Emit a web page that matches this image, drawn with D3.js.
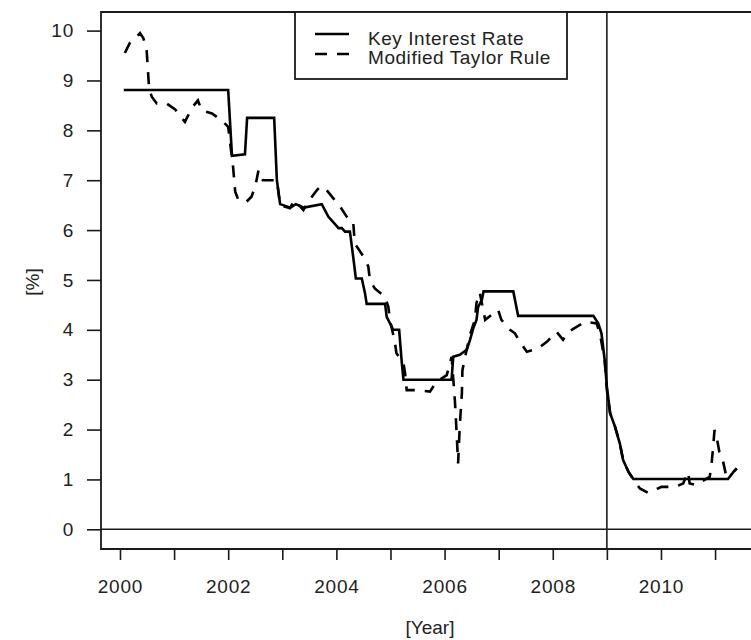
<!DOCTYPE html>
<html>
<head>
<meta charset="utf-8">
<script src="https://cdn.jsdelivr.net/npm/d3@7"></script>
<style>
  html, body { margin: 0; padding: 0; background: #fff; }
  svg { display: block; }
  text { font-family: "Liberation Sans", Arial, sans-serif; fill: #222; }
</style>
</head>
<body>
<svg id="chart" width="751" height="640"></svg>
<script>
// ---- Data (decimal years, percent) ----
const keyDates = [2000.07, 2002.00, 2002.07, 2002.31, 2002.35, 2002.85, 2002.90, 2002.96,
  2003.15, 2003.25, 2003.40, 2003.73, 2003.85, 2004.04, 2004.10, 2004.16, 2004.25, 2004.31,
  2004.36, 2004.47, 2004.53, 2004.56, 2004.90, 2004.93, 2005.05, 2005.16, 2005.21, 2005.24,
  2006.13, 2006.16, 2006.28, 2006.41, 2006.47, 2006.53, 2006.59, 2006.62, 2006.69, 2006.72,
  2007.27, 2007.36, 2008.75, 2008.84, 2008.90, 2008.96, 2009.00, 2009.06, 2009.15, 2009.24,
  2009.30, 2009.40, 2009.49, 2011.24, 2011.34, 2011.40];
const keyRates = [8.81, 8.81, 7.49, 7.52, 8.25, 8.25, 7.0, 6.52,
  6.45, 6.52, 6.45, 6.52, 6.27, 6.04, 6.04, 5.97, 5.97, 5.47,
  5.03, 5.03, 4.73, 4.52, 4.52, 4.26, 4.0, 4.0, 3.33, 3.0,
  3.0, 3.46, 3.5, 3.6, 3.8, 4.03, 4.2, 4.46, 4.6, 4.77,
  4.77, 4.28, 4.28, 4.13, 3.93, 3.39, 2.86, 2.33, 2.06, 1.72,
  1.39, 1.15, 1.01, 1.01, 1.15, 1.22];

const taylorDates = [2000.09, 2000.18, 2000.28, 2000.37, 2000.43, 2000.49, 2000.54, 2000.59,
  2000.68, 2000.86, 2001.02, 2001.20, 2001.33, 2001.44, 2001.51, 2001.70, 2001.88, 2002.00,
  2002.09, 2002.13, 2002.19, 2002.34, 2002.43, 2002.50, 2002.56, 2002.61, 2002.64, 2002.90,
  2002.96, 2003.14, 2003.23, 2003.39, 2003.48, 2003.64, 2003.70, 2003.79, 2003.94, 2004.07,
  2004.19, 2004.22, 2004.31, 2004.34, 2004.50, 2004.59, 2004.62, 2004.71, 2004.90, 2004.96,
  2004.99, 2005.08, 2005.11, 2005.24, 2005.27, 2005.30, 2005.48, 2005.73, 2005.85, 2006.04,
  2006.13, 2006.19, 2006.22, 2006.25, 2006.28, 2006.32, 2006.33, 2006.38, 2006.47, 2006.56,
  2006.59, 2006.65, 2006.75, 2006.87, 2006.99, 2007.05, 2007.21, 2007.30, 2007.39, 2007.52,
  2007.73, 2007.89, 2008.07, 2008.19, 2008.29, 2008.44, 2008.60, 2008.81, 2008.87, 2008.96,
  2009.00, 2009.06, 2009.15, 2009.24, 2009.30, 2009.40, 2009.52, 2009.61, 2009.76, 2010.01,
  2010.26, 2010.41, 2010.50, 2010.53, 2010.65, 2010.90, 2010.93, 2010.96, 2010.99, 2011.02,
  2011.08, 2011.13, 2011.20, 2011.34, 2011.40];
const taylorRates = [9.55, 9.75, 9.85, 9.95, 9.85, 9.65, 8.81, 8.67,
  8.54, 8.54, 8.42, 8.17, 8.45, 8.6, 8.4, 8.34, 8.2, 8.07,
  7.27, 6.77, 6.6, 6.57, 6.67, 6.87, 7.2, 7.05, 7.0, 7.0,
  6.5, 6.44, 6.6, 6.4, 6.57, 6.8, 6.87, 6.84, 6.64, 6.47,
  6.27, 6.22, 6.18, 5.73, 5.47, 5.27, 5.0, 4.83, 4.66, 4.46,
  4.2, 3.76, 3.53, 3.33, 3.13, 2.79, 2.79, 2.76, 2.96, 3.09,
  3.46, 2.59, 1.99, 1.32, 2.06, 2.73, 3.19, 3.46, 3.9, 4.2,
  4.54, 4.75, 4.2, 4.3, 4.4, 4.2, 4.0, 3.93, 3.76, 3.56,
  3.63, 3.76, 3.96, 3.8, 3.96, 4.06, 4.16, 4.13, 3.93, 3.39,
  2.79, 2.33, 2.06, 1.72, 1.39, 1.15, 0.95, 0.82, 0.73, 0.85,
  0.85, 0.92, 1.15, 0.92, 0.89, 1.05, 1.25, 1.6, 1.99, 1.9,
  1.55, 1.45, 1.1, 1.15, 1.22];

const yTicks = [0, 1, 2, 3, 4, 5, 6, 7, 8, 9, 10];
const xTicks = [2000, 2001, 2002, 2003, 2004, 2005, 2006, 2007, 2008, 2009, 2010, 2011];
const xLabelYears = [2000, 2002, 2004, 2006, 2008, 2010];
const seriesNames = ["Key Interest Rate", "Modified Taylor Rule"];
const vLineYear = 2009;
const hLineValue = 0;

// ---- Layout ----
const L = 101, R = 759, T = 12, B = 549;
const svg = d3.select("#chart");
const x = d3.scaleLinear().domain([1999.649, 2011.812]).range([L, R]);
const y = d3.scaleLinear().domain([-0.395, 10.373]).range([B, T]);
const ink = "#1a1a1a";

svg.append("defs").append("clipPath").attr("id", "plotclip")
  .append("rect").attr("x", L).attr("y", T).attr("width", R - L).attr("height", B - T);

// reference lines
svg.append("line").attr("x1", L).attr("x2", R).attr("y1", y(hLineValue)).attr("y2", y(hLineValue))
  .attr("stroke", ink).attr("stroke-width", 1.6);
svg.append("line").attr("x1", x(vLineYear)).attr("x2", x(vLineYear)).attr("y1", T).attr("y2", B)
  .attr("stroke", ink).attr("stroke-width", 1.6);

// series
const keyData = keyDates.map((d, i) => [d, keyRates[i]]);
const taylorData = taylorDates.map((d, i) => [d, taylorRates[i]]);
const line = d3.line().x(d => x(d[0])).y(d => y(d[1]));
const g = svg.append("g").attr("clip-path", "url(#plotclip)");
g.append("path").attr("d", line(keyData)).attr("fill", "none")
  .attr("stroke", "#000").attr("stroke-width", 2.6).attr("stroke-linejoin", "miter");
g.append("path").attr("d", line(taylorData)).attr("fill", "none")
  .attr("stroke", "#000").attr("stroke-width", 2.6).attr("stroke-dasharray", "12,10");

// plot box (right edge lies beyond the picture)
svg.append("path")
  .attr("d", `M${R},${T}H${L}V${B}H${R}`)
  .attr("fill", "none").attr("stroke", ink).attr("stroke-width", 1.8);

// y axis
const yAxis = d3.axisLeft(y).tickValues(yTicks).tickSize(14).tickPadding(13).tickFormat(d3.format("d"));
const gy = svg.append("g").attr("transform", `translate(${L},0)`).call(yAxis);
gy.select(".domain").remove();
gy.selectAll(".tick line").attr("stroke", ink).attr("stroke-width", 1.6);
gy.selectAll(".tick text").attr("font-size", 19).style("letter-spacing", "0.8px")
  .attr("fill", "#222").attr("font-family", "Liberation Sans, Arial, sans-serif");

// x axis
const xAxis = d3.axisBottom(x).tickValues(xTicks).tickSize(11).tickPadding(20)
  .tickFormat(d => xLabelYears.includes(d) ? String(d) : "");
const gx = svg.append("g").attr("transform", `translate(0,${B})`).call(xAxis);
gx.select(".domain").remove();
gx.selectAll(".tick line").attr("stroke", ink).attr("stroke-width", 1.6);
gx.selectAll(".tick text").attr("font-size", 19).style("letter-spacing", "0.8px")
  .attr("fill", "#222").attr("font-family", "Liberation Sans, Arial, sans-serif");

// axis titles
svg.append("text").attr("x", (L + R) / 2).attr("y", 634).attr("text-anchor", "middle")
  .attr("font-size", 19).text("[Year]");
svg.append("text").attr("transform", "translate(39,282) rotate(-90)").attr("text-anchor", "middle")
  .attr("font-size", 19).text("[%]");

// legend
const lg = svg.append("g");
lg.append("rect").attr("x", 295).attr("y", T).attr("width", 272).attr("height", 67)
  .attr("fill", "#fff").attr("stroke", ink).attr("stroke-width", 1.8);
const rows = [{ y: 34, dash: null, tb: 44.5 }, { y: 54, dash: "12,10", tb: 64 }];
rows.forEach((r, i) => {
  const ln = lg.append("line").attr("x1", 315).attr("x2", 349).attr("y1", r.y).attr("y2", r.y)
    .attr("stroke", "#000").attr("stroke-width", 2.6);
  if (r.dash) ln.attr("stroke-dasharray", r.dash);
  lg.append("text").attr("x", 368).attr("y", r.tb).attr("font-size", 19)
    .style("letter-spacing", "0.55px").text(seriesNames[i]);
});
</script>
</body>
</html>
